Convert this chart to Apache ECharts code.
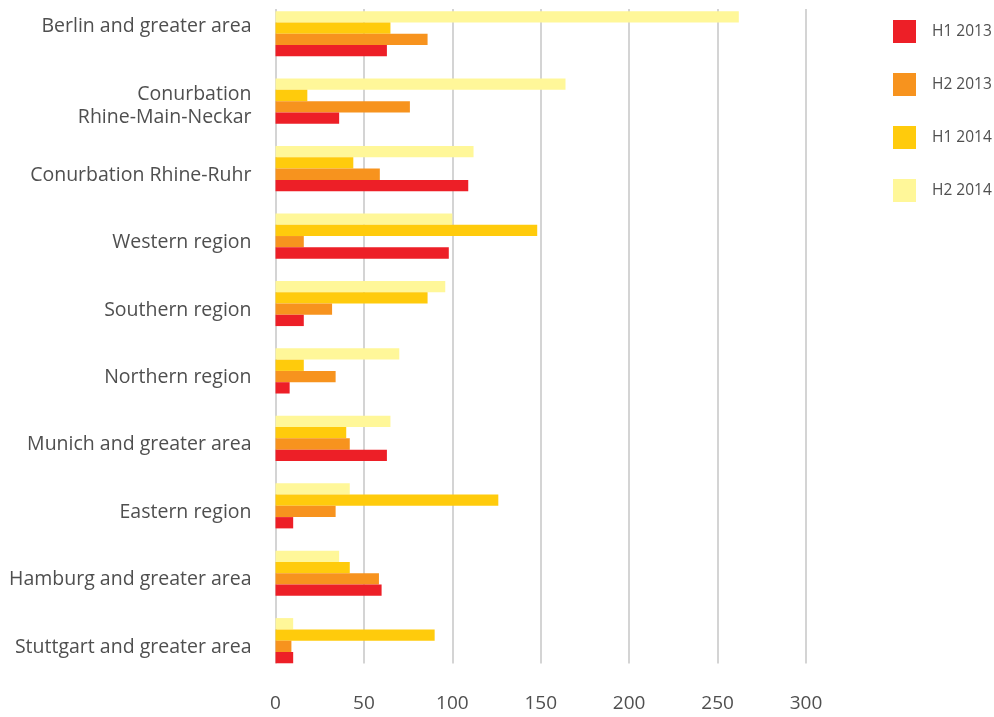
<!DOCTYPE html>
<html>
<head>
<meta charset="utf-8">
<style>
  html, body { margin: 0; padding: 0; background: #ffffff; }
  #chart { width: 994px; height: 717px; }
</style>
<script src="https://cdn.jsdelivr.net/npm/echarts@6/dist/echarts.min.js"></script>
</head>
<body>
<div id="chart"></div>
<script>
// Regions, listed top to bottom
const regions = [
  'Berlin and greater area',
  'Conurbation\nRhine-Main-Neckar',
  'Conurbation Rhine-Ruhr',
  'Western region',
  'Southern region',
  'Northern region',
  'Munich and greater area',
  'Eastern region',
  'Hamburg and greater area',
  'Stuttgart and greater area'
];

const periods = ['H1 2013', 'H2 2013', 'H1 2014', 'H2 2014'];

const h1_2013 = [63, 36, 109, 98, 16, 8, 63, 10, 60, 10];
const h2_2013 = [86, 76, 59, 16, 32, 34, 42, 34, 58.5, 9];
const h1_2014 = [65, 18, 44, 148, 86, 16, 40, 126, 42, 90];
const h2_2014 = [262, 164, 112, 100, 96, 70, 65, 42, 36, 10];

const xTicks = [0, 50, 100, 150, 200, 250, 300];

const colors = ['#ED1F27', '#F7931E', '#FFCB0C', '#FFF799'];
const seriesValues = [h1_2013, h2_2013, h1_2014, h2_2014];

const chart = echarts.init(document.getElementById('chart'), null, { renderer: 'canvas' });

const textColor = '#4f4f4f';
const font = 'Open Sans';

// Within each region the newest period sits on top, so series are added newest first
const order = [3, 2, 1, 0];

chart.setOption({
  animation: false,
  textStyle: { fontFamily: font },
  legend: {
    orient: 'vertical',
    left: 893,
    top: 20,
    padding: 0,
    itemWidth: 23,
    itemHeight: 23,
    itemGap: 30,
    icon: 'rect',
    data: periods,
    textStyle: { color: textColor, fontSize: 15.5, fontFamily: font, padding: [0, 0, 0, 11] }
  },
  grid: [
    // bars
    { left: 275.5, right: 188, top: -2.6, height: 677, containLabel: false },
    // gridlines and value labels
    { left: 275.5, right: 188, top: 9, height: 654.5, containLabel: false }
  ],
  xAxis: [
    {
      gridIndex: 0, type: 'value', min: 0, max: 300, interval: 50,
      show: false
    },
    {
      gridIndex: 1, type: 'value', min: xTicks[0], max: xTicks[xTicks.length - 1], interval: 50,
      axisLine: { show: false },
      axisTick: { show: false },
      splitLine: { show: true, lineStyle: { color: '#c6c6c6', width: 1.5 } },
      axisLabel: { color: textColor, fontSize: 19, fontFamily: font, margin: 31 }
    }
  ],
  yAxis: [
    {
      gridIndex: 0, type: 'category', inverse: true,
      data: regions,
      axisLine: { show: false },
      axisTick: { show: false },
      splitLine: { show: false },
      axisLabel: {
        margin: 24,
        fontSize: 19.5,
        color: textColor,
        fontFamily: font,
        lineHeight: 23,
        formatter: function (v, i) {
          if (i === 0) return '{top|' + v + '}';
          const lines = v.split('\n');
          return lines.map(function (s) { return (lines.length > 1 ? '{two|' : '{low|') + s + '}'; }).join('\n');
        },
        rich: {
          top: { fontSize: 19.5, color: textColor, fontFamily: font, padding: [0, 0, 15, 0] },
          low: { fontSize: 19.5, color: textColor, fontFamily: font, lineHeight: 23, padding: [13, 0, 0, 0] },
          two: { fontSize: 19.5, color: textColor, fontFamily: font, lineHeight: 23, padding: [9, 0, 0, 0] }
        }
      }
    },
    {
      gridIndex: 1, type: 'value', show: false
    }
  ],
  series: order.map(function (k) {
    return {
      name: periods[k],
      type: 'bar',
      xAxisIndex: 0,
      yAxisIndex: 0,
      data: seriesValues[k],
      barGap: 0,
      barCategoryGap: '33%',
      itemStyle: { color: colors[k] }
    };
  })
});
</script>
</body>
</html>
